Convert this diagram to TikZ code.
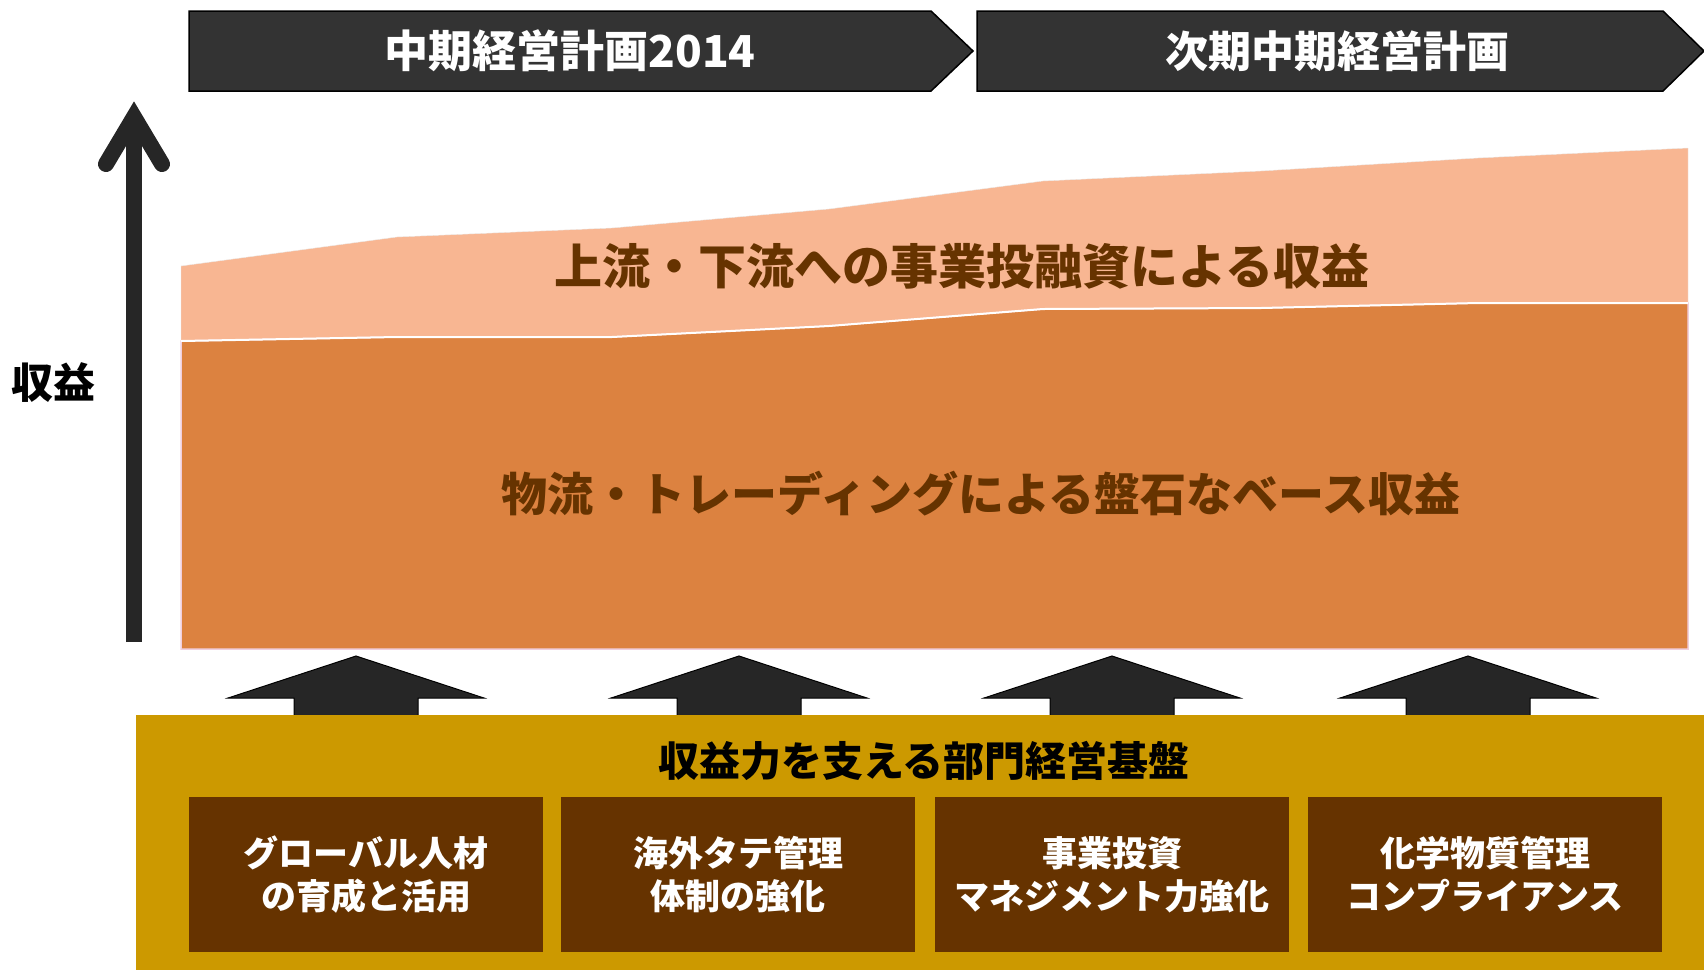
\documentclass[tikz,border=0pt]{standalone}
\usepackage{fontspec}
\setmainfont{Noto Sans CJK JP}
\usetikzlibrary{positioning}
\definecolor{bannerGray}{HTML}{333333}
\definecolor{arrowGray}{HTML}{262626}
\definecolor{baseOrange}{RGB}{220,130,64}
\definecolor{topOrange}{RGB}{248,182,146}
\definecolor{textBrown}{HTML}{663300}
\definecolor{footGold}{HTML}{CC9900}
\begin{document}
\begin{tikzpicture}[x=1pt, y=-1pt,
  txt/.style={inner sep=0, align=center, font=\bfseries\fontsize{#1}{#1}\selectfont},
  banner/.style={fill=bannerGray, draw=black, line width=1.5},
  pillar/.style={fill=textBrown}]
  \useasboundingbox (0,0) rectangle (1704,970);
  % Plan banners
  \draw[banner] (189,11) -- (931,11) -- (973,51) -- (931,91) -- (189,91) -- cycle;
  \draw[banner] (977,11) -- (1663,11) -- (1704,51) -- (1663,91) -- (977,91) -- cycle;
  \node[txt=44, text=white] (plan1) at (570,51) {中期経営計画2014};
  \node[txt=43, text=white] (plan2) at (1337,51) {次期中期経営計画};
  % Revenue layers
  \fill[topOrange, draw=white!92!black] (181,266) -- (397,237) -- (612,228) -- (829,209) -- (1043,181) -- (1261,171) -- (1478,158) -- (1688,148) -- (1688,303) -- (1478,303) -- (1261,308) -- (1043,309) -- (829,326) -- (612,337) -- (397,337) -- (181,341) -- cycle;
  \fill[baseOrange, draw=pink!70!violet!40, line width=1.5] (181,341) -- (397,337) -- (612,337) -- (829,326) -- (1043,309) -- (1261,308) -- (1478,303) -- (1688,303) -- (1688,649) -- (181,649) -- cycle;
  \draw[white, line width=2] (181,341) -- (397,337) -- (612,337) -- (829,326) -- (1043,309) -- (1261,308) -- (1478,303) -- (1688,303);
  \node[txt=48, text=textBrown] (upper) at (962,266) {上流・下流への事業投融資による収益};
  \node[txt=46, text=textBrown] (base) at (981,494) {物流・トレーディングによる盤石なベース収益};
  % Revenue axis
  \draw[arrowGray, line width=16] (134,642) -- (134,124);
  \draw[arrowGray, line width=16, line cap=round] (106,164) -- (134,117) -- (162,164);
  \node[txt=42] (axis) at (54,383) {収益};
  % Support arrows
  \foreach \cx in {356,739,1112,1468} \draw[fill=arrowGray, draw=black, line width=1] (\cx,656) -- (\cx+128,698) -- (\cx+62,698) -- (\cx+62,716) -- (\cx-62,716) -- (\cx-62,698) -- (\cx-128,698) -- cycle;
  % Foundation
  \fill[footGold] (136,715) rectangle (1704,970);
  \node[txt=41] (found) at (924,761) {収益力を支える部門経営基盤};
  \foreach \cx/\la/\lb [count=\k] in {366/グローバル人材/の育成と活用, 738/海外タテ管理/体制の強化, 1112/事業投資/マネジメント力強化, 1485/化学物質管理/コンプライアンス} {
    \fill[pillar] (\cx-177,797) rectangle (\cx+177,952);
    \node[txt=35, text=white, text depth=0pt] (pillar\k) at (\cx,873) {\la\\[8pt]\lb};
  }
\end{tikzpicture}
\end{document}
